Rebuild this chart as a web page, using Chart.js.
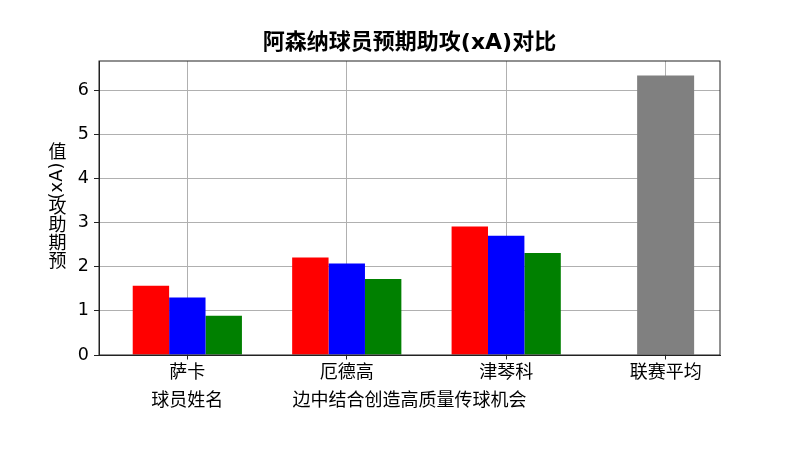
<!DOCTYPE html>
<html>
<head>
<meta charset="utf-8">
<script src="https://cdn.jsdelivr.net/npm/chart.js@4/dist/chart.umd.min.js"></script>
<style>
  html, body { margin: 0; padding: 0; background: #fff; }
  canvas { display: block; }
</style>
</head>
<body>
<canvas id="chart" width="800" height="450"></canvas>
<script>
const players = ['萨卡', '厄德高', '津琴科', '联赛平均'];
const redValues = [1.57, 2.21, 2.91, null];
const blueValues = [1.30, 2.07, 2.70, null];
const greenValues = [0.89, 1.72, 2.31, null];
const leagueValues = [null, null, null, 6.33];

const chartTitle = '阿森纳球员预期助攻(xA)对比';
const xTitle = '边中结合创造高质量传球机会';
const xSubLabel = '球员姓名';
const yTitle = '预期助攻(xA)值';

const FONT = "'DejaVu Sans', 'Noto Sans CJK SC', sans-serif";

// box round the plot, like matplotlib spines
const frame = {
  id: 'frame',
  afterDraw(chart) {
    const { ctx, chartArea: a } = chart;
    ctx.save();
    ctx.strokeStyle = '#222';
    ctx.lineWidth = 1;
    ctx.strokeRect(a.left, a.top, a.right - a.left, a.bottom - a.top);
    ctx.restore();
  }
};

// y title: upright CJK glyphs stacked bottom to top, latin part turned
const yTitlePlugin = {
  id: 'yTitleStack',
  afterDraw(chart) {
    const { ctx, chartArea: a } = chart;
    const size = 18;
    ctx.save();
    ctx.font = size + 'px ' + FONT;
    ctx.fillStyle = '#000';
    ctx.textAlign = 'center';
    ctx.textBaseline = 'middle';
    const parts = yTitle.match(/[\u4e00-\u9fff]|[^\u4e00-\u9fff]+/g);
    const isCjk = parts.map(p => /[\u4e00-\u9fff]/.test(p));
    const lens = parts.map((p, i) => isCjk[i] ? size : ctx.measureText(p).width);
    const total = lens.reduce((s, v) => s + v, 0);
    const x = 57.5;
    let y = (a.top + a.bottom) / 2 + total / 2;
    parts.forEach((p, i) => {
      const mid = y - lens[i] / 2;
      if (isCjk[i]) {
        ctx.fillText(p, x, mid);
      } else {
        ctx.save();
        ctx.translate(x, mid);
        ctx.rotate(-Math.PI / 2);
        ctx.fillText(p, 0, 0);
        ctx.restore();
      }
      y -= lens[i];
    });
    ctx.restore();
  }
};

new Chart(document.getElementById('chart'), {
  type: 'bar',
  data: {
    labels: players.map((p, i) => i),
    datasets: [
      { label: '数据1', data: redValues, backgroundColor: '#ff0000' },
      { label: '数据2', data: blueValues, backgroundColor: '#0000ff' },
      { label: '数据3', data: greenValues, backgroundColor: '#008000' },
      { label: '联赛平均', data: leagueValues, backgroundColor: '#808080', barPercentage: 0.522 }
    ]
  },
  options: {
    responsive: false,
    animation: false,
    layout: { padding: { left: 0, right: 80, top: 0, bottom: 0 } },
    datasets: { bar: { categoryPercentage: 0.685, barPercentage: 1, skipNull: true } },
    plugins: {
      legend: { display: false },
      tooltip: { enabled: false },
      title: {
        display: true,
        fullSize: false, // centre over the plot area, not the canvas
        text: chartTitle,
        color: '#000',
        font: { family: FONT, size: 22, weight: 'bold', lineHeight: 1.2 },
        padding: { top: 30, bottom: 4.6 }
      }
    },
    scales: {
      x: {
        type: 'linear',
        min: -0.554,
        max: 3.341,
        offset: false,
        z: 1,
        grid: { color: '#b0b0b0', lineWidth: 1, offset: false, tickColor: '#222', tickLength: 4.5 },
        border: { color: '#222', width: 1 },
        ticks: {
          stepSize: 1,
          includeBounds: false,
          autoSkip: false,
          maxRotation: 0,
          padding: 0,
          color: '#000',
          font: { family: FONT, size: 18, lineHeight: 1.55 },
          callback: (v) => {
            const i = Math.round(v);
            if (Math.abs(v - i) > 1e-6 || players[i] === undefined) return '';
            return i === 0 ? [players[i], xSubLabel] : players[i];
          }
        },
        title: {
          display: true,
          text: xTitle,
          color: '#000',
          font: { family: FONT, size: 18, lineHeight: 1.2 },
          padding: { top: 0, bottom: 37.7 }
        },
        afterFit: (s) => { s.height = 95; }
      },
      y: {
        min: 0,
        max: 6.66,
        z: 1,
        grid: { color: '#b0b0b0', lineWidth: 1, tickColor: '#222', tickLength: 5 },
        border: { color: '#222', width: 1 },
        ticks: {
          stepSize: 1,
          includeBounds: false,
          padding: 5,
          color: '#000',
          font: { family: FONT, size: 17.5 }
        },
        afterFit: (s) => { s.width = 99; }
      }
    }
  },
  plugins: [frame, yTitlePlugin]
});
</script>
</body>
</html>
